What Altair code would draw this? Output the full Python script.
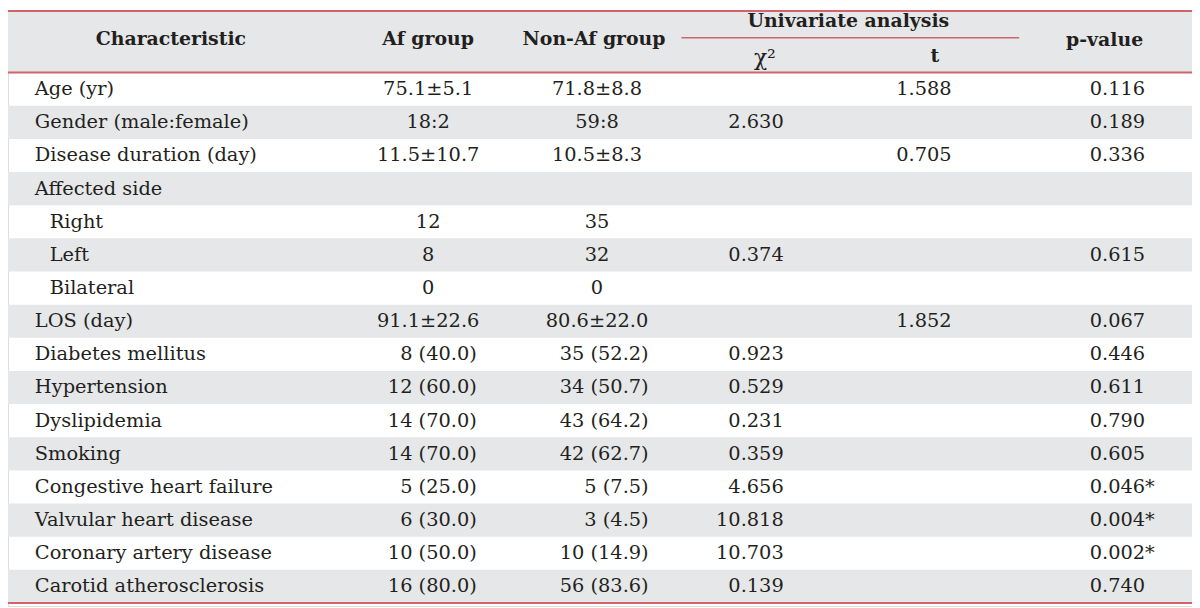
import altair as alt
import pandas as pd

# ---------------- data ----------------
characteristics = [
    "Age (yr)", "Gender (male:female)", "Disease duration (day)", "Affected side",
    "Right", "Left", "Bilateral", "LOS (day)", "Diabetes mellitus", "Hypertension",
    "Dyslipidemia", "Smoking", "Congestive heart failure", "Valvular heart disease",
    "Coronary artery disease", "Carotid atherosclerosis",
]
indented = [0, 0, 0, 0, 1, 1, 1, 0, 0, 0, 0, 0, 0, 0, 0, 0]
af_group = ["75.1±5.1", "18:2", "11.5±10.7", "", "12", "8", "0", "91.1±22.6",
            "8 (40.0)", "12 (60.0)", "14 (70.0)", "14 (70.0)", "5 (25.0)",
            "6 (30.0)", "10 (50.0)", "16 (80.0)"]
non_af_group = ["71.8±8.8", "59:8", "10.5±8.3", "", "35", "32", "0", "80.6±22.0",
                "35 (52.2)", "34 (50.7)", "43 (64.2)", "42 (62.7)", "5 (7.5)",
                "3 (4.5)", "10 (14.9)", "56 (83.6)"]
chi_square = ["", "2.630", "", "", "", "0.374", "", "", "0.923", "0.529", "0.231",
              "0.359", "4.656", "10.818", "10.703", "0.139"]
t_value = ["1.588", "", "0.705", "", "", "", "", "1.852", "", "", "", "", "", "", "", ""]
p_value = ["0.116", "0.189", "0.336", "", "", "0.615", "", "0.067", "0.446", "0.611",
           "0.790", "0.605", "0.046*", "0.004*", "0.002*", "0.740"]

headers = ["Characteristic", "Af group", "Non-Af group", "Univariate analysis", "χ²", "t", "p-value"]

# ---------------- layout (reference pixels) ----------------
W, H = 1192, 600
FONT = "DejaVu Serif"
FS = 19.5
FS_HEAD = 19
TXT = "#231f20"
GRAY = "#e6e7e9"
RED = "#d0646c"
ROW_PX = 33.375
TOP_PX = 71.0


def r_of(ypx):
    return (ypx - TOP_PX) / ROW_PX


xs = alt.Scale(domain=[8, 8 + W], range=[0, W], nice=False, zero=False)
ys = alt.Scale(domain=[0, 16], range=[TOP_PX - 8, TOP_PX - 8 + 16 * ROW_PX], nice=False, zero=False)

LABEL_X, INDENT_X = 35, 50
AF_C, AF_R = 431, 480
NON_C, NON_R = 601, 653
CHI_R, T_R, P_L = 789, 958, 1097

cells = []
n = len(characteristics)
for i in range(n):
    yc = i + 0.5
    cells.append(dict(ry=yc, ax=INDENT_X if indented[i] else LABEL_X, txt=characteristics[i], al="left"))
    for val, cx, rx in ((af_group[i], AF_C, AF_R), (non_af_group[i], NON_C, NON_R)):
        if not val:
            continue
        if "(" in val:
            pct = val.split("(")[1].rstrip(")")
            shown = val + ("\u2007" if float(pct) < 10 else "")
            cells.append(dict(ry=yc, ax=rx, txt=shown, al="right"))
        else:
            cells.append(dict(ry=yc, ax=cx, txt=val, al="center"))
    if chi_square[i]:
        cells.append(dict(ry=yc, ax=CHI_R, txt=chi_square[i], al="right"))
    if t_value[i]:
        cells.append(dict(ry=yc, ax=T_R, txt=t_value[i], al="right"))
    if p_value[i]:
        cells.append(dict(ry=yc, ax=P_L, txt=p_value[i], al="left"))
cells = pd.DataFrame(cells)

bands = pd.DataFrame({"r0": [i for i in range(n) if i % 2 == 1]})
bands["r1"] = bands["r0"] + 1
head_bg = pd.DataFrame({"r0": [r_of(9)], "r1": [0]})

head_pos = [(172, 37), (431, 37), (598, 37), (854, 19), (770, 56), (941, 54), (1112, 38)]
head_bold = [1, 1, 1, 1, 0, 1, 1]
head_df = pd.DataFrame({
    "ax": [p[0] for p in head_pos],
    "ry": [r_of(p[1]) for p in head_pos],
    "txt": headers,
    "bold": head_bold,
})

full_lines = pd.DataFrame({"ry": [r_of(9), 0, 16]})
sub_line = pd.DataFrame({"ax": [686], "ax2": [1026], "ry": [r_of(36)]})

# ---------------- marks ----------------
bg = alt.Chart(head_bg).mark_rect(color=GRAY).encode(
    x=alt.value(0), x2=alt.value(W),
    y=alt.Y("r0:Q", scale=ys, axis=None), y2="r1:Q")
stripes = alt.Chart(bands).mark_rect(color=GRAY).encode(
    x=alt.value(0), x2=alt.value(W),
    y=alt.Y("r0:Q", scale=ys, axis=None), y2="r1:Q")

rules = alt.Chart(full_lines).mark_rule(color=RED, strokeWidth=2).encode(
    x=alt.value(0), x2=alt.value(W), y=alt.Y("ry:Q", scale=ys, axis=None))
subrule = alt.Chart(sub_line).mark_rule(color=RED, strokeWidth=1.5).encode(
    x=alt.X("ax:Q", scale=xs, axis=None), x2="ax2:Q", y=alt.Y("ry:Q", scale=ys, axis=None))


def text_layer(df, align, weight="normal", size=FS):
    return alt.Chart(df).mark_text(
        align=align, baseline="middle", font=FONT, fontSize=size, color=TXT, fontWeight=weight
    ).encode(
        x=alt.X("ax:Q", scale=xs, axis=None),
        y=alt.Y("ry:Q", scale=ys, axis=None),
        text="txt:N",
    )


layers = [bg, stripes, rules, subrule]
for al in ("left", "center", "right"):
    sub = cells[cells["al"] == al]
    if len(sub):
        layers.append(text_layer(sub, al))
layers.append(text_layer(head_df[head_df["bold"] == 1], "center", "bold", FS_HEAD))
layers.append(text_layer(head_df[head_df["bold"] == 0], "center", "normal", 22))

chart = alt.layer(*layers).properties(
    width=W, height=H, padding=0, autosize=alt.AutoSizeParams(type="none")
).configure_view(stroke=None).configure(background="white")

chart.save("out.html", embed_options={"renderer": "svg", "actions": False})
